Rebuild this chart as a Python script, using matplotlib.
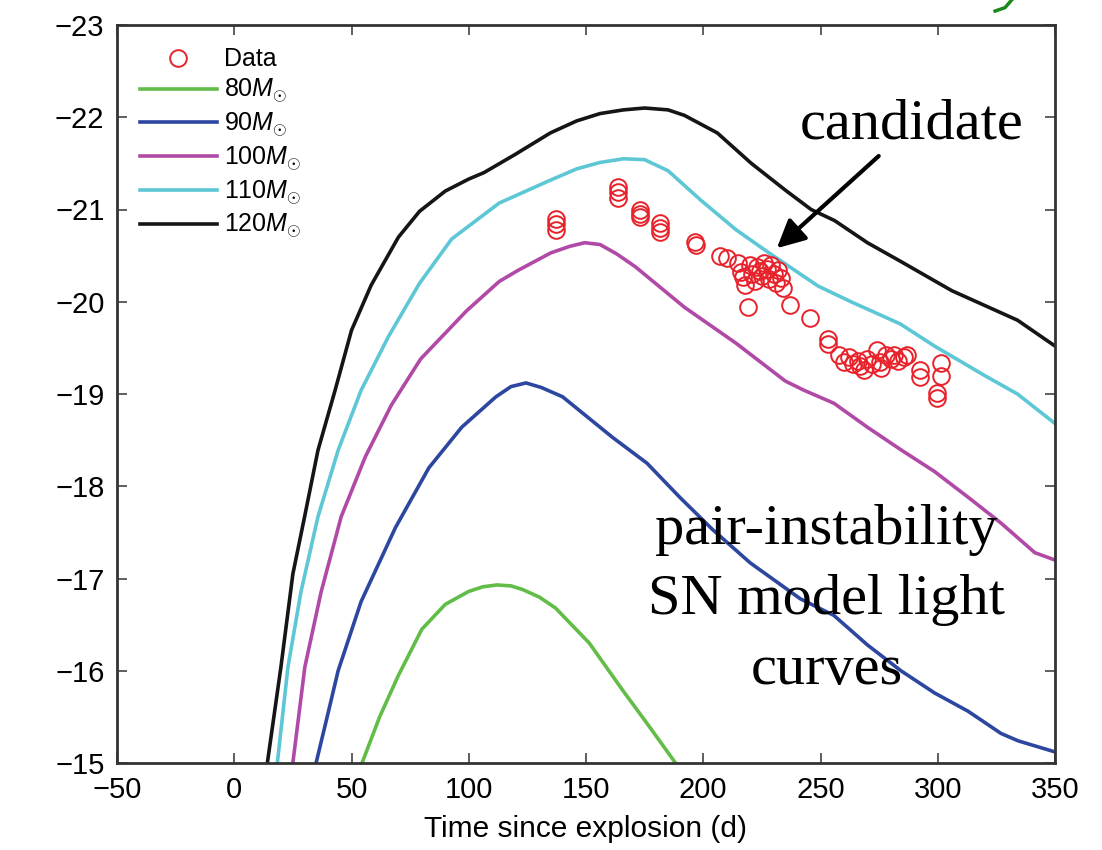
import matplotlib
matplotlib.use('Agg')
import matplotlib.pyplot as plt
from matplotlib.lines import Line2D

plt.rcParams['font.family'] = ['Liberation Sans', 'DejaVu Sans']
plt.rcParams['mathtext.fontset'] = 'custom'
plt.rcParams['mathtext.it'] = 'Liberation Sans:italic'
plt.rcParams['mathtext.rm'] = 'Liberation Sans'

# 模型光变曲线 (时间 d, 绝对星等)
t_120 = [13, 19.9, 25, 30, 35.7, 43, 50, 58.4, 70, 79, 90, 100, 106.5, 120, 134.8, 146, 156, 166, 175,
         185, 192, 206, 220.5, 235, 246, 256, 270, 284, 306, 320, 334, 350]
m_120 = [-14.8, -16.04, -17.05, -17.67, -18.39, -19.04, -19.69, -20.18, -20.7, -20.98, -21.2,
         -21.33, -21.4, -21.6, -21.83, -21.96, -22.04, -22.08, -22.1, -22.08, -22.02, -21.83,
         -21.5, -21.21, -21.0, -20.88, -20.64, -20.44, -20.12, -19.96, -19.8, -19.52]

t_110 = [17.5, 22.9, 28.4, 35.7, 44.3, 54.1, 65.7, 79, 92.7, 113, 135, 146, 156, 166, 175, 185, 199,
         214, 228, 241.4, 249, 263, 284, 298.6, 320, 334, 350]
m_110 = [-14.8, -16.04, -16.85, -17.67, -18.39, -19.04, -19.62, -20.2, -20.68, -21.07, -21.32,
         -21.44, -21.51, -21.55, -21.54, -21.42, -21.1, -20.78, -20.53, -20.3, -20.17, -20.0,
         -19.76, -19.52, -19.2, -19.0, -18.68]

t_100 = [24, 30.1, 37, 45.6, 55.9, 67, 79.5, 99, 113, 121, 135, 143, 149.4, 156, 163, 171, 192, 214,
         235, 243, 255.7, 270, 284, 298.6, 313, 327, 341.4, 350]
m_100 = [-14.8, -16.04, -16.85, -17.67, -18.32, -18.88, -19.38, -19.9, -20.22, -20.34, -20.53,
         -20.6, -20.64, -20.62, -20.52, -20.38, -19.94, -19.55, -19.14, -19.04, -18.9, -18.64,
         -18.4, -18.16, -17.88, -17.6, -17.28, -17.2]

t_90 = [33, 40, 44.3, 54.1, 68.7, 83, 97, 111.6, 118, 124.4, 131, 140, 161.3, 176, 190, 204, 220,
        241.4, 255.7, 270, 284.3, 298.6, 313, 327, 334.3, 350]
m_90 = [-14.8, -15.54, -16.0, -16.75, -17.55, -18.2, -18.64, -18.97, -19.08, -19.12, -19.07,
        -18.97, -18.53, -18.25, -17.88, -17.53, -17.17, -16.78, -16.6, -16.28, -16.0, -15.76,
        -15.56, -15.32, -15.24, -15.12]

t_80 = [53, 62, 70, 80, 90, 100, 106, 112, 118, 123, 130, 137, 151.4, 165.6, 176, 191]
m_80 = [-14.9, -15.5, -15.95, -16.45, -16.72, -16.86, -16.91, -16.93, -16.92, -16.88, -16.8,
        -16.68, -16.3, -15.79, -15.43, -14.9]

# 观测数据
t_data = [137, 137, 137, 163.5, 163.5, 163.5, 173, 173, 173, 181.5, 181.5, 181.5, 196.5, 197,
          207, 210, 215, 216, 217, 218, 219, 220, 221, 222, 223, 224, 225, 226, 227, 228, 229,
          230, 231, 232, 233, 234, 237, 245.7, 253, 253, 258, 260, 262, 264, 266, 267, 268.5,
          270, 272, 274, 275.5, 276, 278, 280, 281.5, 283, 285.5, 287, 292.5, 292.5, 299.5,
          299.5, 301.5, 301.5]
m_data = [-20.90, -20.84, -20.78, -21.24, -21.19, -21.13, -20.99, -20.95, -20.92, -20.85, -20.80,
          -20.76, -20.65, -20.62, -20.50, -20.47, -20.42, -20.32, -20.27, -20.18, -19.94, -20.40,
          -20.30, -20.22, -20.38, -20.33, -20.28, -20.42, -20.36, -20.25, -20.40, -20.30, -20.20,
          -20.34, -20.26, -20.15, -19.96, -19.82, -19.60, -19.54, -19.42, -19.35, -19.40, -19.32,
          -19.36, -19.30, -19.26, -19.38, -19.32, -19.48, -19.35, -19.28, -19.42, -19.38, -19.42,
          -19.36, -19.40, -19.42, -19.26, -19.18, -19.01, -18.96, -19.34, -19.20]

x_ticks = [-50, 0, 50, 100, 150, 200, 250, 300, 350]
y_ticks = [-23, -22, -21, -20, -19, -18, -17, -16, -15]

fig = plt.figure(figsize=(11.02, 8.5), dpi=100)
ax = fig.add_axes([117 / 1102, 1 - 763 / 850, (1055 - 117) / 1102, (763 - 25) / 850])

ax.plot(t_data, m_data, 'o', mfc='none', mec='#e8222a', ms=12, mew=1.4, label='Data', zorder=5)
ax.plot(t_80, m_80, color='#62bd48', lw=2.6, label=r'80$M_{\odot}$')
ax.plot(t_90, m_90, color='#2d47a0', lw=2.6, label=r'90$M_{\odot}$')
ax.plot(t_100, m_100, color='#b04aa6', lw=2.6, label=r'100$M_{\odot}$')
ax.plot(t_110, m_110, color='#5ec7d6', lw=2.6, label=r'110$M_{\odot}$')
ax.plot(t_120, m_120, color='#151515', lw=2.6, label=r'120$M_{\odot}$')

ax.set_xlim(-50, 350)
ax.set_ylim(-15, -23)
ax.set_xticks(x_ticks)
ax.set_yticks(y_ticks)
ax.tick_params(direction='in', length=7, width=1.2, top=True, right=True,
               labelsize=21, color='#444444', pad=9)
for s in ax.spines.values():
    s.set_linewidth(2)
    s.set_color('#333333')
ax.set_xlabel('Time since explosion (d)', fontsize=21.5, labelpad=8)

leg = ax.legend(loc='upper left', frameon=False, fontsize=18, handlelength=3.1,
                handletextpad=0.3, labelspacing=0.22, borderaxespad=0.8, borderpad=0.1)

# 注释文字
ax.text(289, -21.92, 'candidate', family='Liberation Serif', fontsize=42,
        ha='center', va='center')
ax.annotate('', xy=(230.5, -20.56), xytext=(275.7, -21.6),
            arrowprops=dict(arrowstyle='-|>,head_length=1.7,head_width=0.85', color='black', lw=3))
ax.text(252.6, -16.77, 'pair-instability\nSN model light\ncurves', family='Liberation Serif',
        fontsize=42, ha='center', va='center', linespacing=1.45)

# 图片边缘残留的笔画
fig.add_artist(Line2D([0.903, 0.912, 0.918], [0.987, 0.991, 1.0], color='#1a8a1a', lw=2.5))

fig.savefig('out.png', dpi=100)
